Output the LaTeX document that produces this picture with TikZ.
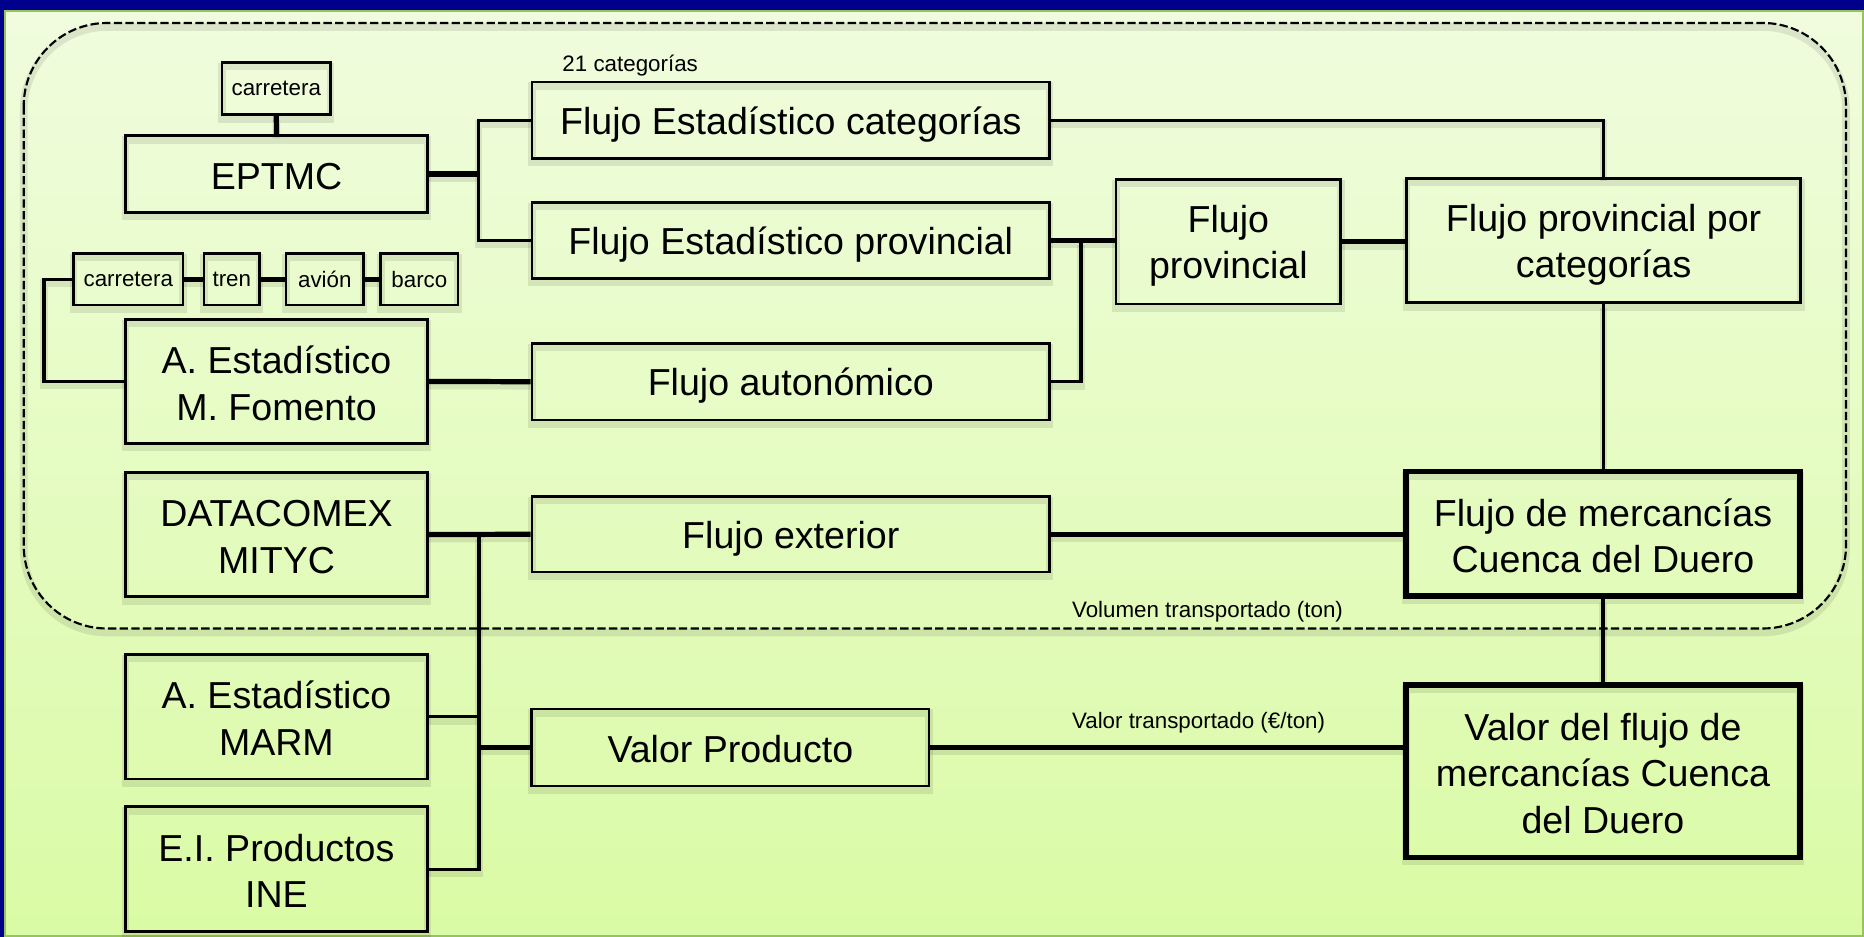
\documentclass[tikz,border=0pt]{standalone}
\usepackage{fontspec}
\setmainfont{Liberation Sans}
\usetikzlibrary{calc}
\definecolor{navy}{RGB}{0,0,140}
\definecolor{bgtop}{RGB}{240,252,222}
\definecolor{bgbot}{RGB}{218,251,165}
\definecolor{frameg}{RGB}{150,195,90}
\newcommand\bst{\rule[-2pt]{0pt}{17pt}}
\tikzset{
  sz/.style 2 args={minimum width=#1*0.4206pt,minimum height=#2*0.4206pt},
  shad/.style={preaction={draw=black,opacity=0.09,line width=3.2pt,transform canvas={yshift=-1.7pt}}},
  box/.style={draw=black,line width=1.1pt,inner sep=0pt,align=center,
    font=\fontsize{15.8}{19.6}\selectfont,shad},
  tbox/.style={box,line width=2.2pt},
  sbox/.style={draw=black,line width=1.1pt,inner sep=0pt,
    font=\fontsize{9.4}{11}\selectfont,shad},
  lab/.style={font=\fontsize{9.4}{11}\selectfont,inner sep=0pt,anchor=base west},
  thinline/.style={line width=1.3pt,shad},
  thickline/.style={line width=2.2pt,shad},
}
\begin{document}
\begin{tikzpicture}[x=0.4206pt,y=-0.4206pt]
\useasboundingbox (0,0) rectangle (1864,937);
% background
\fill[navy] (0,0) rectangle (1864,937);
\shade[top color=bgtop,bottom color=bgbot] (4.5,10.5) rectangle (1864,937);
\draw[frameg,line width=1pt] (5,11) rectangle (1863.5,936);
% dashed group
\draw[line width=0.9pt,dash pattern=on 3.5pt off 1.4pt,rounded corners=35pt,shad]
  (23.7,23) rectangle (1846,628.5);

% nodes
\node[sbox,sz={108.6}{52.4}] (ct) at (276.3,88.5) {carretera};
\node[box,sz={302}{76.6}] (eptmc) at (276.5,174) {\bst EPTMC};
\node[box,sz={517.6}{76.3}] (fec) at (790.8,120.2) {\bst Flujo Estadístico categorías};
\node[box,sz={517.6}{76}] (fep) at (790.8,240.5) {\bst Flujo Estadístico provincial};
\node[sbox,sz={109.5}{51.7}] (c2) at (128.3,279.2) {carretera};
\node[sbox,sz={55.5}{51.7}] (tren) at (231.8,279.2) {tren};
\node[sbox,sz={77.6}{51.7}] (avion) at (324.8,279.2) {avión};
\node[sbox,sz={77.2}{51.7}] (barco) at (419.4,279.2) {barco};
\node[box,sz={302}{124}] (fom) at (276.5,381.5) {\bst A. Estadístico\\M. Fomento\bst};
\node[box,sz={517.6}{76.7}] (aut) at (790.8,381.7) {\bst Flujo autonómico};
\node[box,sz={224.7}{124.7}] (fprov) at (1228.4,241.7) {\bst Flujo\\provincial\bst};
\node[box,sz={394.2}{124.4}] (fppc) at (1603.6,240.5) {\bst Flujo provincial por\\categorías\bst};
\node[box,sz={302}{124.4}] (data) at (276.5,534.5) {\bst DATACOMEX\\MITYC\bst};
\node[box,sz={517.6}{75.5}] (ext) at (790.8,534.3) {\bst Flujo exterior};
\node[tbox,sz={394}{124.3}] (fmcd) at (1603,533.9) {\bst Flujo de mercancías\\Cuenca del Duero\bst};
\node[box,sz={302}{124.7}] (marm) at (276.4,716.7) {\bst A. Estadístico\\MARM\bst};
\node[box,sz={302}{125}] (ine) at (276.4,869.2) {\bst E.I. Productos\\INE\bst};
\node[box,sz={397.3}{77}] (vp) at (730.4,747.5) {\bst Valor Producto};
\node[tbox,sz={394}{172.3}] (vf) at (1603,771.2) {\bst Valor del flujo de\\mercancías Cuenca\\del Duero\bst};

% labels
\node[lab] (l21) at (562,72) {21 categorías};
\node[lab] (lvol) at (1071.6,618) {Volumen transportado (ton)};
\node[lab] (lval) at (1071.6,729) {Valor transportado (€/ton)};

% junction coordinates
\coordinate (ja) at (478.4,174);
\coordinate (jl) at (44,279.2);
\coordinate (jb) at (1081,240.5);
\coordinate (jc) at (479,534.5);

% connectors
\draw[thickline] (ct.south) -- (eptmc.north);
\draw[thickline] (eptmc.east) -- (ja);
\draw[thinline] (fec.west) -| (ja) |- (fep.west);
\draw[thickline] (c2) -- (tren);
\draw[thickline] (tren) -- (avion);
\draw[thickline] (avion) -- (barco);
\draw[thinline] (c2.west) -- (jl) |- (fom.west);
\draw[thickline] (fom.east) -- (aut.west);
\draw[thickline] (fep.east) -- (fep.east -| fprov.west);
\draw[thinline] (aut.east) -| (jb);
\draw[thickline] (fprov.east) -- (fprov.east -| fppc.west);
\draw[thinline] (fec.east) -| (fppc.north);
\draw[thinline] (fppc.south) -- (fppc.south |- fmcd.north);
\draw[thinline] (fmcd.south) -- (vf.north);
\draw[thickline] (data.east) -- (ext.west);
\draw[thinline] (jc) |- (ine.east);
\draw[thinline] (marm.east) -- (marm.east -| jc);
\draw[thickline] (vp.west -| jc) -- (vp.west);
\draw[thickline] (ext.east) -- (ext.east -| fmcd.west);
\draw[thickline] (vp.east) -- (vp.east -| vf.west);
\end{tikzpicture}
\end{document}
